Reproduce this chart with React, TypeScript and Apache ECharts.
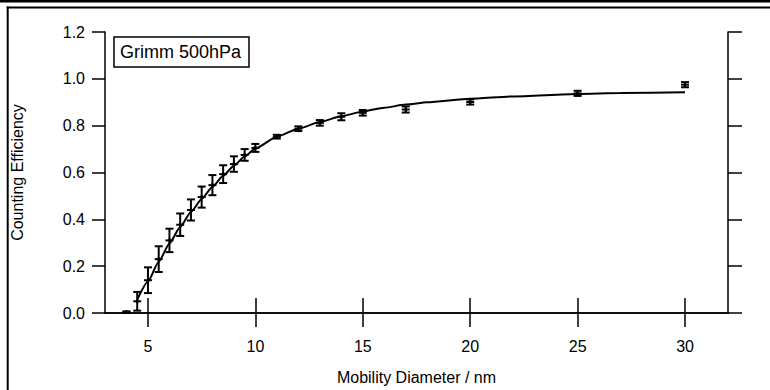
import React, { useEffect, useRef } from "react";
import * as echarts from "echarts";

const diameters = [4, 4.5, 5, 5.5, 6, 6.5, 7, 7.5, 8, 8.5, 9, 9.5, 10, 11, 12, 13, 14, 15, 17, 20, 25, 30];
const efficiency = [0.004, 0.05, 0.14, 0.23, 0.31, 0.377, 0.44, 0.495, 0.546, 0.593, 0.636, 0.675, 0.705, 0.753, 0.787, 0.812, 0.838, 0.855, 0.869, 0.901, 0.938, 0.975];
const errors = [0.003, 0.04, 0.055, 0.055, 0.05, 0.048, 0.045, 0.045, 0.043, 0.038, 0.033, 0.025, 0.017, 0.008, 0.01, 0.012, 0.015, 0.012, 0.013, 0.011, 0.011, 0.011];

const fitX = [4.5, 5, 5.5, 6, 6.5, 7, 7.5, 8, 8.5, 9, 9.5, 10, 11, 12, 13, 14, 15, 16, 17, 18, 20, 22, 25, 27, 30];
const fitY = [0.056, 0.134, 0.219, 0.297, 0.367, 0.431, 0.487, 0.539, 0.586, 0.629, 0.668, 0.702, 0.753, 0.787, 0.816, 0.84, 0.861, 0.877, 0.89, 0.9, 0.915, 0.925, 0.935, 0.939, 0.943];

const xTicks = [5, 10, 15, 20, 25, 30];

const legendText = "Grimm 500hPa";
const xName = "Mobility Diameter / nm";
const yName = "Counting Efficiency";

const FONT = "'Liberation Sans', Arial, sans-serif";

export default function App() {
  const ref = useRef<HTMLDivElement>(null);
  useEffect(() => {
    if (!ref.current) return;
    const chart = echarts.init(ref.current, undefined, { renderer: "svg" });
    const axisLine = { show: true, lineStyle: { color: "#000", width: 1.5 } };
    const axisTick = { show: true, length: 13, lineStyle: { color: "#000", width: 1.5 } };
    const option: any = {
      animation: false,
      backgroundColor: "#fff",
      textStyle: { fontFamily: FONT },
      grid: { left: 105, right: 42, top: 32, bottom: 75 },
      xAxis: [
        {
          type: "value",
          position: "bottom",
          min: 3,
          max: 32,
          name: xName,
          nameLocation: "middle",
          nameGap: 56,
          nameTextStyle: { color: "#000", fontSize: 16, fontFamily: FONT },
          axisLine,
          axisTick: { ...axisTick, length: 14, customValues: xTicks },
          axisLabel: { customValues: xTicks, color: "#000", fontSize: 16, fontFamily: FONT, margin: 25 },
          splitLine: { show: false },
        },
        {
          type: "value",
          position: "top",
          min: 3,
          max: 32,
          axisLine,
          axisTick: { ...axisTick, length: 15, customValues: xTicks },
          axisLabel: { show: false },
          splitLine: { show: false },
        },
      ],
      yAxis: [
        {
          type: "value",
          position: "left",
          min: 0,
          max: 1.2,
          interval: 0.2,
          name: yName,
          nameLocation: "middle",
          nameGap: 80,
          nameRotate: 90,
          nameTextStyle: { color: "#000", fontSize: 16, fontFamily: FONT },
          axisLine,
          axisTick,
          axisLabel: {
            color: "#000",
            fontSize: 16,
            fontFamily: FONT,
            margin: 20,
            formatter: (v: number) => v.toFixed(1),
          },
          splitLine: { show: false },
        },
        {
          type: "value",
          position: "right",
          min: 0,
          max: 1.2,
          interval: 0.2,
          axisLine,
          axisTick: { ...axisTick, length: 14 },
          axisLabel: { show: false },
          splitLine: { show: false },
        },
      ],
      series: [
        {
          type: "line",
          name: "fit",
          data: fitX.map((x, i) => [x, fitY[i]]),
          smooth: 0.2,
          smoothMonotone: "x",
          showSymbol: false,
          symbol: "none",
          lineStyle: { color: "#000", width: 2 },
          z: 2,
        },
        {
          type: "custom",
          name: legendText,
          data: diameters.map((x, i) => [x, efficiency[i], errors[i]]),
          z: 3,
          renderItem: (params: any, api: any) => {
            const x = api.value(0);
            const y = api.value(1);
            const e = api.value(2);
            const c = api.coord([x, y]);
            const lo = api.coord([x, y - e]);
            const hi = api.coord([x, y + e]);
            const st = { stroke: "#000", lineWidth: 2 };
            const cap = 4;
            return {
              type: "group",
              children: [
                { type: "line", shape: { x1: c[0], y1: lo[1], x2: c[0], y2: hi[1] }, style: st },
                { type: "line", shape: { x1: c[0] - cap, y1: lo[1], x2: c[0] + cap, y2: lo[1] }, style: st },
                { type: "line", shape: { x1: c[0] - cap, y1: hi[1], x2: c[0] + cap, y2: hi[1] }, style: st },
                { type: "line", shape: { x1: c[0] - cap, y1: c[1], x2: c[0] + cap, y2: c[1] }, style: st },
                { type: "line", shape: { x1: c[0], y1: c[1] - 2, x2: c[0], y2: c[1] + 2 }, style: st },
              ],
            };
          },
        },
      ],
      graphic: [
        { type: "line", shape: { x1: 0, y1: 1.2, x2: 770, y2: 1.2 }, style: { stroke: "#000", lineWidth: 2.4 } },
        { type: "line", shape: { x1: 6.7, y1: 7.4, x2: 770, y2: 7.4 }, style: { stroke: "#000", lineWidth: 2 } },
        { type: "line", shape: { x1: 7.7, y1: 6.4, x2: 7.7, y2: 390 }, style: { stroke: "#000", lineWidth: 2 } },
        {
          type: "rect",
          shape: { x: 114, y: 37, width: 135, height: 30 },
          style: { fill: "#fff", stroke: "#000", lineWidth: 1.5 },
          z: 10,
        },
        {
          type: "text",
          x: 120,
          y: 52,
          style: { text: legendText, fill: "#000", fontSize: 18, fontFamily: FONT, verticalAlign: "middle" },
          z: 11,
        },
      ],
    };
    chart.setOption(option);
    return () => chart.dispose();
  }, []);
  return (
    <div
      ref={ref}
      style={{ position: "absolute", left: 0, top: 0, width: 770, height: 390 }}
    />
  );
}
